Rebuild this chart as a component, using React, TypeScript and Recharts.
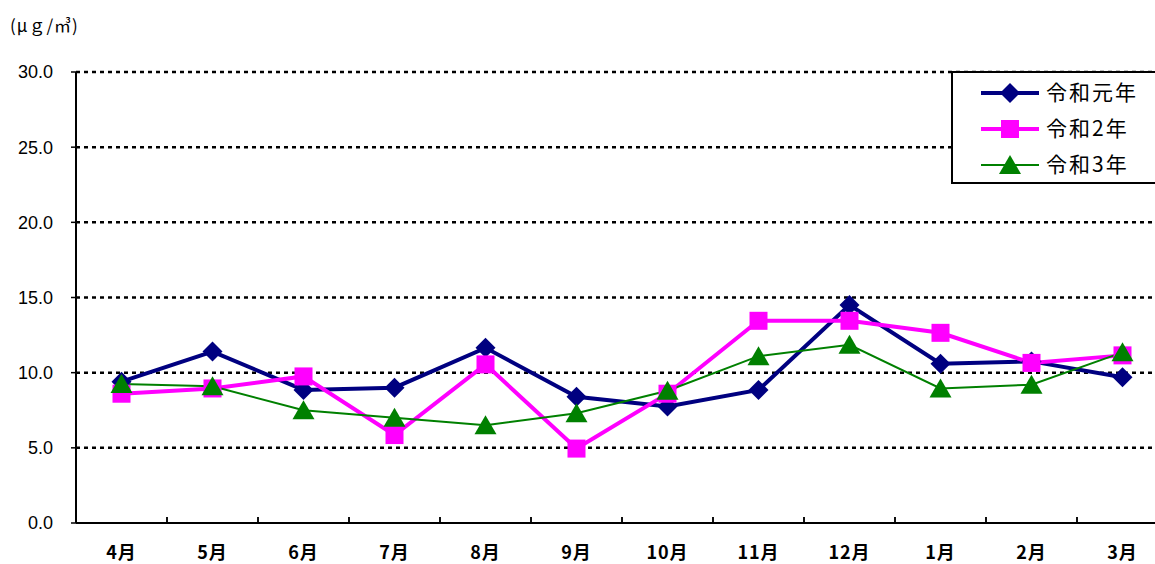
import React from 'react';
import { LineChart, Line, XAxis, YAxis, CartesianGrid } from 'recharts';

const months = ['4月', '5月', '6月', '7月', '8月', '9月', '10月', '11月', '12月', '1月', '2月', '3月'];
const reiwa1 = [9.4, 11.4, 8.85, 9.0, 11.65, 8.4, 7.75, 8.85, 14.5, 10.6, 10.75, 9.7];
const reiwa2 = [8.6, 8.95, 9.75, 5.85, 10.55, 4.95, 8.6, 13.45, 13.45, 12.65, 10.65, 11.15];
const reiwa3 = [9.25, 9.1, 7.5, 7.0, 6.5, 7.3, 8.8, 11.1, 11.85, 8.95, 9.2, 11.35];
const yTicks = [0, 5, 10, 15, 20, 25, 30];
const seriesNames = ['令和元年', '令和2年', '令和3年'];
const unitLabel = '(μｇ/㎥)';

const data = months.map((m, i) => ({ month: m, r1: reiwa1[i], r2: reiwa2[i], r3: reiwa3[i] }));

const NAVY = '#000080';
const PINK = '#FF00FF';
const GREEN = '#008000';

const Diamond = (props: any) => {
  const { cx, cy } = props;
  if (cx == null || cy == null) return null;
  const s = 10;
  return <polygon points={`${cx},${cy - s} ${cx + s},${cy} ${cx},${cy + s} ${cx - s},${cy}`} fill={NAVY} />;
};
const Square = (props: any) => {
  const { cx, cy } = props;
  if (cx == null || cy == null) return null;
  return <rect x={cx - 9} y={cy - 9} width={18} height={18} fill={PINK} />;
};
const Triangle = (props: any) => {
  const { cx, cy } = props;
  if (cx == null || cy == null) return null;
  return <polygon points={`${cx},${cy - 10} ${cx + 11},${cy + 9} ${cx - 11},${cy + 9}`} fill={GREEN} />;
};

const MonthTick = (props: any) => {
  const { x, y, payload, index } = props;
  const half = payload && payload.offset ? payload.offset : 45.5;
  return (
    <g>
      {index > 0 && <line x1={x - half} x2={x - half} y1={y} y2={y - 6} stroke="#000" strokeWidth={1.5} />}
      <line x1={x + half} x2={x + half} y1={y} y2={y - 6} stroke="#000" strokeWidth={1.5} />
      <text x={x} y={y + 31} textAnchor="middle" dominantBaseline="middle" fontSize={18} letterSpacing={1}
        fontWeight={600} fontFamily='"Noto Sans CJK JP", sans-serif' fill="#000">{payload.value}</text>
    </g>
  );
};

const LegendBox = () => {
  const rows = [
    { name: seriesNames[0], color: NAVY, w: 4, M: Diamond },
    { name: seriesNames[1], color: PINK, w: 4, M: Square },
    { name: seriesNames[2], color: GREEN, w: 2, M: Triangle },
  ];
  return (
    <svg width={230} height={114} style={{ position: 'absolute', left: 951, top: 71 }}>
      <rect x={1} y={1} width={240} height={111} fill="#fff" stroke="#000" strokeWidth={2} />
      {rows.map((r, i) => {
        const cy = 22 + i * 36;
        return (
          <g key={r.name}>
            <line x1={30} x2={88} y1={cy} y2={cy} stroke={r.color} strokeWidth={r.w} />
            <r.M cx={59} cy={cy} />
            <text x={95} y={cy + 1} dominantBaseline="middle" fontSize={21} letterSpacing={2}
              fontFamily='"Noto Sans CJK JP", sans-serif' fill="#000">{r.name}</text>
          </g>
        );
      })}
    </svg>
  );
};

export default function App() {
  return (
    <div style={{ position: 'absolute', left: 0, top: 0, width: 1155, height: 564, overflow: 'hidden', background: '#fff' }}>
      <div style={{ position: 'absolute', left: 10, top: 12, fontSize: 17, letterSpacing: 1, fontFamily: '"Noto Sans CJK JP", sans-serif', color: '#000' }}>
        {unitLabel}
      </div>
      <LineChart width={1168} height={564} data={data} margin={{ top: 72, right: 0, bottom: 0, left: 0 }}>
        <CartesianGrid horizontal vertical={false} stroke="#000" strokeDasharray="4 4" strokeWidth={2.5}
          horizontalValues={[5, 10, 15, 20, 25, 30]} />
        <XAxis dataKey="month" scale="band" height={41} tickSize={0} tickMargin={0} tickLine={false}
          axisLine={{ stroke: '#000', strokeWidth: 2 }} tick={<MonthTick />} interval={0} />
        <YAxis domain={[0, 30]} ticks={yTicks} width={76} tickSize={5} tickMargin={18}
          tickFormatter={(v: number) => v.toFixed(1)} interval={0}
          axisLine={{ stroke: '#000', strokeWidth: 2 }} tickLine={{ stroke: '#000', strokeWidth: 1.5 }}
          tick={{ fill: '#000', fontSize: 18, fontFamily: '"Liberation Sans", Arial, sans-serif' }} />
        <Line dataKey="r1" stroke={NAVY} strokeWidth={4} dot={<Diamond />} activeDot={false} isAnimationActive={false} />
        <Line dataKey="r2" stroke={PINK} strokeWidth={4} dot={<Square />} activeDot={false} isAnimationActive={false} />
        <Line dataKey="r3" stroke={GREEN} strokeWidth={2} dot={<Triangle />} activeDot={false} isAnimationActive={false} />
      </LineChart>
      <LegendBox />
    </div>
  );
}
